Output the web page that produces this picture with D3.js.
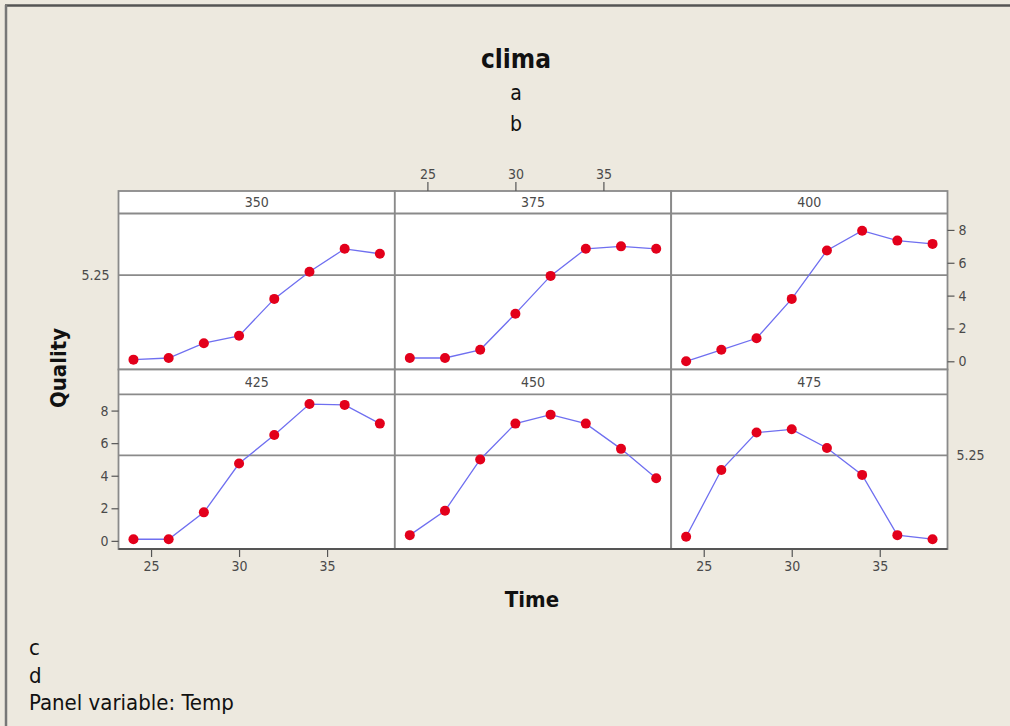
<!DOCTYPE html>
<html>
<head>
<meta charset="utf-8">
<script src="https://cdn.jsdelivr.net/npm/d3@7"></script>
<style>
  html, body { margin: 0; padding: 0; background: #ECE9DF; }
  svg { display: block; }
  text { font-family: "DejaVu Sans Condensed", "DejaVu Sans", sans-serif; }
</style>
</head>
<body>
<script>
// Time points (x) shared by every panel
const times = [24, 26, 28, 30, 32, 34, 36, 38];
// Panel variable: Temp
const temps = [350, 375, 400, 425, 450, 475];
// Quality values, one series per Temp panel
const q350 = [0.1, 0.2, 1.1, 1.55, 3.8, 5.45, 6.85, 6.55];
const q375 = [0.2, 0.2, 0.7, 2.9, 5.2, 6.85, 7.0, 6.85];
const q400 = [0.0, 0.7, 1.4, 3.8, 6.75, 7.95, 7.35, 7.15];
const q425 = [0.1, 0.1, 1.75, 4.75, 6.5, 8.4, 8.35, 7.2];
const q450 = [0.35, 1.85, 5.0, 7.2, 7.75, 7.2, 5.65, 3.85];
const q475 = [0.25, 4.35, 6.65, 6.85, 5.7, 4.05, 0.35, 0.1];
const series = [q350, q375, q400, q425, q450, q475];
// Axis ticks and reference line
const xTicks = [25, 30, 35];
const yTicks = [0, 2, 4, 6, 8];
const refLine = 5.25;

const W = 1010, H = 726;
const svg = d3.select("body").append("svg").attr("width", W).attr("height", H);

svg.append("rect").attr("width", W).attr("height", H).attr("fill", "#EDE9DF");
// window frame
svg.append("line").attr("x1", 5).attr("x2", W).attr("y1", 5.5).attr("y2", 5.5)
  .attr("stroke", "#555").attr("stroke-width", 2.5);
svg.append("line").attr("x1", 6).attr("x2", 6).attr("y1", 5).attr("y2", H)
  .attr("stroke", "#777").attr("stroke-width", 2.5);

// panel grid geometry
const gridLeft = 118.5, gridRight = 947.5;
const colW = (gridRight - gridLeft) / 3;
const rows = [
  { stripTop: 191, plotTop: 213.5, plotBottom: 369.5 },
  { stripTop: 369.5, plotTop: 394.3, plotBottom: 549 }
];

const xDomain = [23.15, 38.85];
const yDomain = [-0.5, 9.0];
const gridColor = "#8a8a8a";
const tickColor = "#555";
const labelColor = "#4a4a4a";
const smallFont = 14;

temps.forEach((t, i) => {
  const r = rows[Math.floor(i / 3)];
  const c = i % 3;
  const x0 = gridLeft + c * colW;
  const x = d3.scaleLinear().domain(xDomain).range([x0, x0 + colW]);
  const y = d3.scaleLinear().domain(yDomain).range([r.plotBottom, r.plotTop]);
  const g = svg.append("g");

  // strip + plot backgrounds
  g.append("rect").attr("x", x0).attr("y", r.stripTop).attr("width", colW)
    .attr("height", r.plotTop - r.stripTop).attr("fill", "#fff");
  g.append("rect").attr("x", x0).attr("y", r.plotTop).attr("width", colW)
    .attr("height", r.plotBottom - r.plotTop).attr("fill", "#fff");

  // strip label
  g.append("text").attr("x", x0 + colW / 2).attr("y", (r.stripTop + r.plotTop) / 2 + 5)
    .attr("text-anchor", "middle").attr("font-size", smallFont).attr("fill", labelColor)
    .text(t);

  // reference line
  g.append("line").attr("x1", x0).attr("x2", x0 + colW)
    .attr("y1", y(refLine)).attr("y2", y(refLine))
    .attr("stroke", gridColor).attr("stroke-width", 1.6);

  // connecting line
  const pts = times.map((tm, k) => [tm, series[i][k]]);
  g.append("path").datum(pts)
    .attr("d", d3.line().x(d => x(d[0])).y(d => y(d[1])))
    .attr("fill", "none").attr("stroke", "#6f6ff0").attr("stroke-width", 1.3);

  g.selectAll("circle").data(pts).join("circle")
    .attr("cx", d => x(d[0])).attr("cy", d => y(d[1])).attr("r", 5)
    .attr("fill", "#e3001b");

  // panel borders
  g.append("rect").attr("x", x0).attr("y", r.stripTop).attr("width", colW)
    .attr("height", r.plotBottom - r.stripTop).attr("fill", "none")
    .attr("stroke", gridColor).attr("stroke-width", 1.8);
  g.append("line").attr("x1", x0).attr("x2", x0 + colW)
    .attr("y1", r.plotTop).attr("y2", r.plotTop)
    .attr("stroke", gridColor).attr("stroke-width", 1.8);

  // axes, alternating sides like a panel matrix
  const styleAxis = (sel) => {
    sel.select(".domain").remove();
    sel.selectAll(".tick line").attr("stroke", tickColor).attr("stroke-width", 1.2);
    sel.selectAll(".tick text").attr("fill", labelColor).attr("font-size", smallFont)
      .attr("font-family", "DejaVu Sans Condensed, DejaVu Sans, sans-serif");
  };
  if (i === 1) {
    svg.append("g").attr("transform", `translate(0,${r.stripTop})`)
      .call(d3.axisTop(x).tickValues(xTicks).tickSize(9).tickPadding(3))
      .call(styleAxis);
  }
  if (i === 2) {
    svg.append("g").attr("transform", `translate(${x0 + colW},0)`)
      .call(d3.axisRight(y).tickValues(yTicks).tickSize(7).tickPadding(4))
      .call(styleAxis);
  }
  if (i === 3) {
    svg.append("g").attr("transform", `translate(${x0},0)`)
      .call(d3.axisLeft(y).tickValues(yTicks).tickSize(7).tickPadding(3))
      .call(styleAxis);
  }
  if (i === 3 || i === 5) {
    svg.append("g").attr("transform", `translate(0,${r.plotBottom})`)
      .call(d3.axisBottom(x).tickValues(xTicks).tickSize(8).tickPadding(4))
      .call(styleAxis);
  }
  // reference value labels
  if (i === 0) {
    svg.append("text").attr("x", x0 - 9).attr("y", y(refLine) + 5)
      .attr("text-anchor", "end").attr("font-size", smallFont).attr("fill", labelColor)
      .text(refLine);
  }
  if (i === 5) {
    svg.append("text").attr("x", x0 + colW + 9).attr("y", y(refLine) + 5)
      .attr("text-anchor", "start").attr("font-size", smallFont).attr("fill", labelColor)
      .text(refLine);
  }
});

// darker bottom edge of the grid
svg.append("line").attr("x1", gridLeft).attr("x2", gridRight)
  .attr("y1", rows[1].plotBottom).attr("y2", rows[1].plotBottom)
  .attr("stroke", "#555").attr("stroke-width", 1.8);

// titles
svg.append("text").attr("x", 516).attr("y", 68).attr("text-anchor", "middle")
  .attr("font-size", 26).attr("font-weight", "bold").attr("fill", "#111").text("clima");
svg.append("text").attr("x", 516).attr("y", 100).attr("text-anchor", "middle")
  .attr("font-size", 21).attr("fill", "#111").text("a");
svg.append("text").attr("x", 516).attr("y", 131).attr("text-anchor", "middle")
  .attr("font-size", 21).attr("fill", "#111").text("b");

svg.append("text").attr("x", 532).attr("y", 607).attr("text-anchor", "middle")
  .attr("font-size", 22).attr("font-weight", "bold").attr("fill", "#111").text("Time");
svg.append("text").attr("transform", "translate(66,368) rotate(-90)")
  .attr("text-anchor", "middle").attr("font-size", 22).attr("font-weight", "bold")
  .attr("fill", "#111").text("Quality");

// footnotes
const foot = ["c", "d", "Panel variable: Temp"];
svg.selectAll("text.foot").data(foot).join("text").attr("class", "foot")
  .attr("x", 29).attr("y", (d, k) => 655 + k * 27.5)
  .attr("font-family", "DejaVu Sans, sans-serif")
  .attr("font-size", 22).attr("fill", "#111").text(d => d);
</script>
</body>
</html>
